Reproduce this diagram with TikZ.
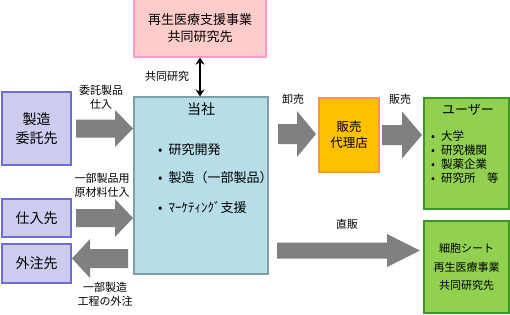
\documentclass[tikz,border=0pt]{standalone}
\usepackage{fontspec}
\setmainfont{Noto Sans CJK JP}
\usetikzlibrary{arrows.meta}
\definecolor{pinkfill}{RGB}{255,204,204}
\definecolor{pinkdraw}{RGB}{255,153,204}
\definecolor{toshafill}{RGB}{183,222,232}
\definecolor{toshadraw}{RGB}{127,160,170}
\definecolor{lavfill}{RGB}{206,204,238}
\definecolor{lavdraw}{RGB}{110,110,210}
\definecolor{orgfill}{RGB}{255,192,0}
\definecolor{orgdraw}{RGB}{247,150,70}
\definecolor{grnfill}{RGB}{146,208,80}
\definecolor{grndraw}{RGB}{60,150,40}
\definecolor{arrgray}{RGB}{128,128,128}
\newcommand\blockarr[6]{\fill[arrgray] (#1,#3-#4) -- (#5,#3-#4) -- (#5,#3-#6) -- (#2,#3) -- (#5,#3+#6) -- (#5,#3+#4) -- (#1,#3+#4) -- cycle;}
\begin{document}
\begin{tikzpicture}[x=1pt,y=-1pt,
  box/.style={draw, line width=1.2pt, inner sep=0pt, align=center, font=\fontsize{13}{17}\selectfont},
  lav/.style={box, fill=lavfill, draw=lavdraw, minimum width=69pt, font=\fontsize{14}{19}\selectfont},
  lbl/.style={inner sep=0pt, align=center, font=\fontsize{11}{14}\selectfont},
  itm/.style={inner sep=0pt, anchor=west, font=\fontsize{13}{15}\selectfont},
  uitm/.style={inner sep=0pt, anchor=west, font=\fontsize{11.5}{13}\selectfont}]
\useasboundingbox (0,0) rectangle (510,314);
% boxes
\node[box, fill=pinkfill, draw=pinkdraw, minimum width=132pt, minimum height=58pt] (pink) at (200,28) {再生医療支援事業\\共同研究先};
\node[box, fill=toshafill, draw=toshadraw, minimum width=134pt, minimum height=177pt] (tosha) at (201,185.5) {};
\node[lav, minimum height=73pt] (seizo) at (36.5,128.5) {製造\\委託先};
\node[lav, minimum height=38pt] (shiire) at (36.5,218) {仕入先};
\node[lav, minimum height=39pt] (gaichu) at (36.5,263.5) {外注先};
\node[box, fill=orgfill, draw=orgdraw, minimum width=60pt, minimum height=74pt, font=\fontsize{12.5}{16.5}\selectfont] (dairi) at (349,135) {販売\\代理店};
\node[box, fill=grnfill, draw=grndraw, minimum width=85pt, minimum height=111pt] (user) at (466.5,153.5) {};
\node[box, fill=grnfill, draw=grndraw, minimum width=85pt, minimum height=92pt, font=\fontsize{11}{18.5}\selectfont] (saibo) at (466.5,267) {細胞シート\\再生医療事業\\共同研究先};
% tosha contents
\node[inner sep=0pt, font=\fontsize{14}{16}\selectfont] (toshat) at (201,109) {当社};
\node[itm] (t1) at (158,150) {•\hspace{6pt}研究開発};
\node[itm] (t2) at (158,178) {•\hspace{6pt}製造（一部製品）};
\node[itm] (t3) at (158,207) {•\hspace{6pt}ﾏｰｹﾃｨﾝｸﾞ支援};
% user contents
\node[inner sep=0pt, font=\fontsize{13}{15}\selectfont] (usert) at (468,110) {ユーザー};
\node[uitm] (u1) at (431,136) {•\hspace{6pt}大学};
\node[uitm] (u2) at (431,150) {•\hspace{6pt}研究機関};
\node[uitm] (u3) at (431,164) {•\hspace{6pt}製薬企業};
\node[uitm] (u4) at (431,178) {•\hspace{6pt}研究所　等};
% double arrow
\draw[line width=2pt, {Stealth[length=7pt,width=9pt]}-{Stealth[length=7pt,width=9pt]}] (pink.south) -- (pink.south |- tosha.north);
\node[lbl] (kyodo) at (167,76) {共同研究};
% block arrows
\blockarr{76}{133}{128.5}{9}{115}{18.5}
\blockarr{76}{133}{218}{9}{115}{19}
\blockarr{128}{72}{258.5}{9.5}{90}{19.5}
\blockarr{278}{316}{134}{10}{297}{23}
\blockarr{382}{422}{135}{10}{402}{23.5}
\blockarr{277}{420}{250.5}{8}{387}{16.5}
% labels
\node[lbl] (l1) at (101,97) {委託製品\\仕入};
\node[lbl] (l2) at (102,185.5) {一部製品用\\原材料仕入};
\node[lbl] (l3) at (105,294) {一部製造\\工程の外注};
\node[lbl] (l4) at (293,99) {卸売};
\node[lbl] (l5) at (400,99) {販売};
\node[lbl] (l6) at (347,224) {直販};
\end{tikzpicture}
\end{document}
